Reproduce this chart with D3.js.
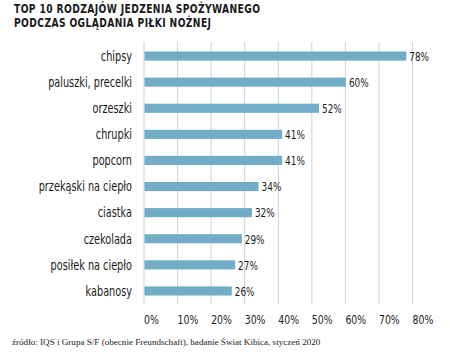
<!DOCTYPE html>
<html><head><meta charset="utf-8">
<script src="https://cdn.jsdelivr.net/npm/d3@7"></script>
<style>
body{margin:0;background:#fff;}
svg text{font-family:"DejaVu Sans Condensed","Roboto",sans-serif;fill:#1a1a1a;}
</style></head><body>
<svg id="c" width="450" height="360"></svg>
<script>
const categories = ["chipsy","paluszki, precelki","orzeszki","chrupki","popcorn","przekąski na ciepło","ciastka","czekolada","posiłek na ciepło","kabanosy"];
const values = [78,60,52,41,41,34,32,29,27,26];
const tickValues = [0,10,20,30,40,50,60,70,80];
const titleLines = ["TOP 10 RODZAJÓW JEDZENIA SPOŻYWANEGO","PODCZAS OGLĄDANIA PIŁKI NOŻNEJ"];
const source = "źródło: IQS i Grupa S/F (obecnie Freundschaft), badanie Świat Kibica, styczeń 2020";

const svg = d3.select("#c");
const x = d3.scaleLinear().domain([0,80]).range([144,412.5]);
const y = d3.scaleBand().domain(categories).range([43,304]).paddingInner(0.65).paddingOuter(0.325);
const SX = 0.8;

// title
svg.append("g").selectAll("text").data(titleLines).join("text")
  .attr("transform",(d,i)=>`translate(14,${12.5+i*14}) scale(0.85,1)`)
  .style("font-weight","bold").style("font-size","12px").style("letter-spacing","0.45px")
  .text(d=>d);

// grid
svg.append("g").selectAll("line").data(tickValues).join("line")
  .attr("x1",d=>x(d)).attr("x2",d=>x(d)).attr("y1",42).attr("y2",304)
  .attr("stroke","#d0d0d0").attr("stroke-width",1);

// tick labels
svg.append("g").selectAll("text").data(tickValues).join("text")
  .attr("transform",d=>`translate(${x(d)},324) scale(${SX},1)`)
  .style("font-size","13px")
  .text(d=>d+"%");

// bars
svg.append("g").selectAll("rect").data(values).join("rect")
  .attr("x",x(0)+0.5).attr("y",(d,i)=>y(categories[i]))
  .attr("width",d=>x(d)-x(0)).attr("height",y.bandwidth())
  .attr("fill","#71adc6");

// category labels
svg.append("g").selectAll("text").data(categories).join("text")
  .attr("transform",d=>`translate(132,${y(d)+y.bandwidth()/2+4.8}) scale(${SX},1)`)
  .attr("text-anchor","end").style("font-size","13.5px")
  .text(d=>d);

// value labels
svg.append("g").selectAll("text").data(values).join("text")
  .attr("transform",(d,i)=>`translate(${x(d)+3.5},${y(categories[i])+y.bandwidth()/2+4.8}) scale(0.76,1)`)
  .style("font-size","13px")
  .text(d=>d+"%");

// source
svg.append("text").attr("x",12).attr("y",345)
  .style("font-family","'Liberation Serif',serif").style("font-size","9.1px")
  .text(source);
</script></body></html>
